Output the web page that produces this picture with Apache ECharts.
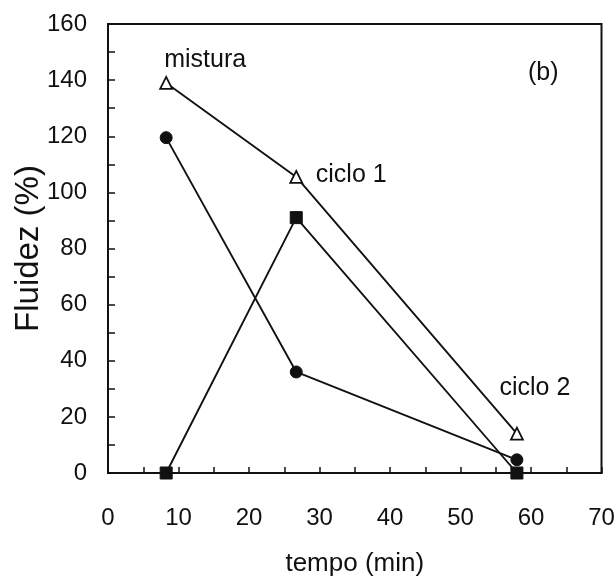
<!DOCTYPE html>
<html><head><meta charset="utf-8">
<script src="https://cdn.jsdelivr.net/npm/echarts@6/dist/echarts.min.js"></script>
<style>html,body{margin:0;padding:0;background:#fff}#c{width:616px;height:577px}</style>
</head><body><div id="c"></div>
<script>
const tempo = [8.25, 26.7, 58.0];
const mistura = [139, 105.5, 14];
const circulos = [119.5, 36, 4.7];
const quadrados = [0, 91, 0];
const labelsTri = ['mistura', 'ciclo 1', 'ciclo 2'];
const xTicks = [0, 10, 20, 30, 40, 50, 60, 70];
const yTicks = [0, 20, 40, 60, 80, 100, 120, 140, 160];

const font = 'Liberation Sans, Arial, Helvetica, sans-serif';
const chart = echarts.init(document.getElementById('c'));
const lineStyle = {color: '#111', width: 1.9};
const triLabelOffset = [[39, -23], [55, -2], [18, -46]];
chart.setOption({
  animation: false,
  grid: {left: 108, right: 14.5, top: 24, bottom: 104, show: true, borderColor: '#111', borderWidth: 2, outerBoundsMode: 'none', containLabel: false},
  xAxis: {
    type: 'value', min: xTicks[0], max: xTicks[xTicks.length-1], interval: 10,
    name: 'tempo (min)', nameLocation: 'middle', nameGap: 78, nameMoveOverlap: false,
    nameTextStyle: {fontFamily: font, fontSize: 26, color: '#111'},
    axisLine: {lineStyle: {color: '#111', width: 2}},
    axisTick: {inside: true, length: 6, lineStyle: {color: '#111', width: 1.5}},
    minorTick: {show: true, splitNumber: 2, length: 6, lineStyle: {color: '#111', width: 1.5}},
    axisLabel: {margin: 33, fontFamily: font, fontSize: 24, color: '#111'},
    splitLine: {show: false}
  },
  yAxis: {
    type: 'value', min: yTicks[0], max: yTicks[yTicks.length-1], interval: 20,
    name: 'Fluidez (%)', nameLocation: 'middle', nameGap: 63, nameMoveOverlap: false,
    nameTextStyle: {fontFamily: font, fontSize: 33, color: '#111'},
    axisLine: {lineStyle: {color: '#111', width: 2}},
    axisTick: {inside: true, length: 7, lineStyle: {color: '#111', width: 1.5}},
    minorTick: {show: true, splitNumber: 2, length: 7, lineStyle: {color: '#111', width: 1.5}},
    axisLabel: {margin: 21, fontFamily: font, fontSize: 24, color: '#111'},
    splitLine: {show: false}
  },
  series: [
    {
      type: 'line', name: 'mistura',
      data: tempo.map((t, i) => ({
        value: [t, mistura[i]],
        label: {show: true, formatter: labelsTri[i], position: 'inside', offset: triLabelOffset[i],
                fontFamily: font, fontSize: 25, color: '#111'}
      })),
      symbol: 'triangle', symbolSize: 12,
      itemStyle: {color: '#fff', borderColor: '#111', borderWidth: 1.8},
      lineStyle: lineStyle, z: 3
    },
    {
      type: 'line', name: 'circ',
      data: tempo.map((t, i) => [t, circulos[i]]),
      symbol: 'circle', symbolSize: 12,
      itemStyle: {color: '#111', borderColor: '#111'},
      lineStyle: lineStyle
    },
    {
      type: 'line', name: 'quad',
      data: tempo.map((t, i) => [t, quadrados[i]]),
      symbol: 'rect', symbolSize: 12,
      itemStyle: {color: '#111', borderColor: '#111'},
      lineStyle: lineStyle, clip: false
    }
  ],
  graphic: [{
    type: 'text', left: 528, top: 61,
    style: {text: '(b)', font: '25px ' + font, fill: '#111'}
  }]
});
</script></body></html>
